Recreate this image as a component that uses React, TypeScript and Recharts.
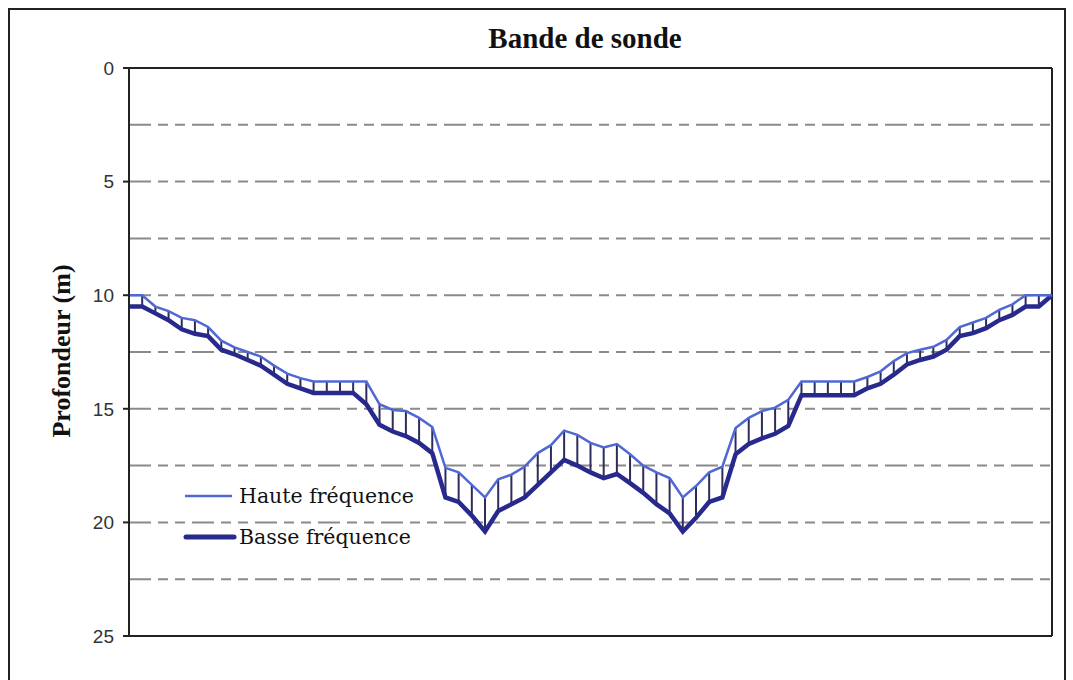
import React from 'react';
import {
  ComposedChart,
  Line,
  XAxis,
  YAxis,
  CartesianGrid,
  ReferenceLine,
  ErrorBar,
} from 'recharts';

// profondeur (m) le long du profil, une valeur par point de mesure
const haute = [
  10.0, 10.0, 10.5, 10.7, 11.0, 11.1, 11.4, 12.0, 12.3, 12.5, 12.7, 13.1,
  13.45, 13.65, 13.8, 13.8, 13.8, 13.8, 13.8, 14.8, 15.05, 15.1, 15.4, 15.8,
  17.6, 17.8, 18.35, 18.9, 18.1, 17.9, 17.55, 16.95, 16.6, 15.96, 16.15, 16.5,
  16.7, 16.55, 17.0, 17.5, 17.8, 18.05, 18.9, 18.4, 17.8, 17.55, 15.85, 15.4,
  15.1, 14.95, 14.6, 13.8, 13.8, 13.8, 13.8, 13.8, 13.6, 13.35, 12.9, 12.55,
  12.4, 12.27, 11.97, 11.4, 11.2, 11.0, 10.65, 10.4, 10.0, 10.0, 10.0,
];

const basse = [
  10.5, 10.5, 10.8, 11.1, 11.5, 11.7, 11.8, 12.4, 12.6, 12.85, 13.1, 13.5,
  13.9, 14.1, 14.3, 14.3, 14.3, 14.3, 14.8, 15.7, 16.0, 16.2, 16.5, 16.95,
  18.9, 19.1, 19.7, 20.4, 19.5, 19.2, 18.9, 18.35, 17.8, 17.25, 17.5, 17.8,
  18.05, 17.87, 18.27, 18.7, 19.2, 19.6, 20.4, 19.8, 19.1, 18.9, 17.0, 16.55,
  16.3, 16.1, 15.75, 14.4, 14.4, 14.4, 14.4, 14.4, 14.1, 13.9, 13.5, 13.05,
  12.85, 12.7, 12.4, 11.8, 11.67, 11.45, 11.1, 10.87, 10.5, 10.5, 10.0,
];

const yTicks = [0, 5, 10, 15, 20, 25];
const gridValues = [2.5, 5, 7.5, 10, 12.5, 15, 17.5, 20, 22.5];

const data = haute.map((h, i) => ({
  x: i,
  haute: h,
  basse: basse[i],
  ecart: [0, basse[i] - h],
}));

const HF_COLOR = '#5068d4';
const BF_COLOR = '#272a8c';
const AXIS = '#222';
const SERIF = '"Liberation Serif", "Times New Roman", serif';

function ChartLegend() {
  const text = { fontFamily: '"DejaVu Serif", serif', fontSize: 20.5, color: '#111' };
  return (
    <div
      style={{
        position: 'absolute',
        left: 182,
        top: 483,
        display: 'flex',
        flexDirection: 'column',
        gap: 15,
      }}
    >
      <div style={{ display: 'flex', alignItems: 'center', height: 26 }}>
        <svg width={57} height={10}>
          <line x1={3} y1={5} x2={50} y2={5} stroke={HF_COLOR} strokeWidth={2.5} />
        </svg>
        <span style={text}>Haute fréquence</span>
      </div>
      <div style={{ display: 'flex', alignItems: 'center', height: 26 }}>
        <svg width={57} height={10}>
          <line x1={4} y1={5} x2={52} y2={5} stroke={BF_COLOR} strokeWidth={5} strokeLinecap="round" />
        </svg>
        <span style={text}>Basse fréquence</span>
      </div>
    </div>
  );
}

export default function App() {
  return (
    <div style={{ position: 'relative', width: 1073, height: 680, overflow: 'hidden', background: '#fff' }}>
      <style>{'body{margin:0;overflow:hidden}'}</style>
      <div
        style={{
          position: 'absolute',
          left: 8,
          top: 8,
          width: 1054,
          height: 700,
          border: '2px solid #222',
        }}
      />
      <div
        style={{
          position: 'absolute',
          left: 335,
          width: 500,
          top: 22,
          textAlign: 'center',
          fontFamily: SERIF,
          fontWeight: 'bold',
          fontSize: 29,
          color: '#111',
        }}
      >
        Bande de sonde
      </div>
      <div
        style={{
          position: 'absolute',
          left: 62,
          top: 351,
          transform: 'translate(-50%, -50%) rotate(-90deg)',
          whiteSpace: 'nowrap',
          fontFamily: SERIF,
          fontWeight: 'bold',
          fontSize: 26,
          color: '#111',
        }}
      >
        Profondeur (m)
      </div>
      <div style={{ position: 'absolute', left: 0, top: 0 }}>
        <ComposedChart
          width={1073}
          height={680}
          data={data}
          margin={{ top: 68, right: 21, bottom: 44, left: 69 }}
        >
          <CartesianGrid
            vertical={false}
            horizontalValues={gridValues}
            stroke="#8a8a8a"
            strokeWidth={2}
            strokeDasharray="22 7 10 7 10 7"
          />
          <XAxis dataKey="x" type="number" domain={[0, 70]} hide />
          <YAxis
            type="number"
            reversed
            domain={[0, 25]}
            ticks={yTicks}
            interval={0}
            width={60}
            axisLine={{ stroke: AXIS, strokeWidth: 2 }}
            tickLine={{ stroke: AXIS, strokeWidth: 2 }}
            tickSize={6}
            tickMargin={9}
            tick={{ fontFamily: '"Liberation Sans", Arial, sans-serif', fontSize: 19, fill: '#333' }}
          />
          <ReferenceLine y={0} stroke={AXIS} strokeWidth={2} />
          <ReferenceLine y={25} stroke={AXIS} strokeWidth={2} />
          <ReferenceLine x={70} stroke={AXIS} strokeWidth={2} />
          <Line
            dataKey="haute"
            stroke="none"
            dot={false}
            activeDot={false}
            legendType="none"
            isAnimationActive={false}
          >
            <ErrorBar
              dataKey="ecart"
              direction="y"
              width={0}
              stroke="#2c2d5c"
              strokeWidth={2}
              isAnimationActive={false}
            />
          </Line>
          <Line
            dataKey="basse"
            name="Basse fréquence"
            stroke={BF_COLOR}
            strokeWidth={4.5}
            dot={false}
            type="linear"
            isAnimationActive={false}
          />
          <Line
            dataKey="haute"
            name="Haute fréquence"
            stroke={HF_COLOR}
            strokeWidth={2.5}
            dot={false}
            type="linear"
            isAnimationActive={false}
          />
        </ComposedChart>
      </div>
      <ChartLegend />
    </div>
  );
}
